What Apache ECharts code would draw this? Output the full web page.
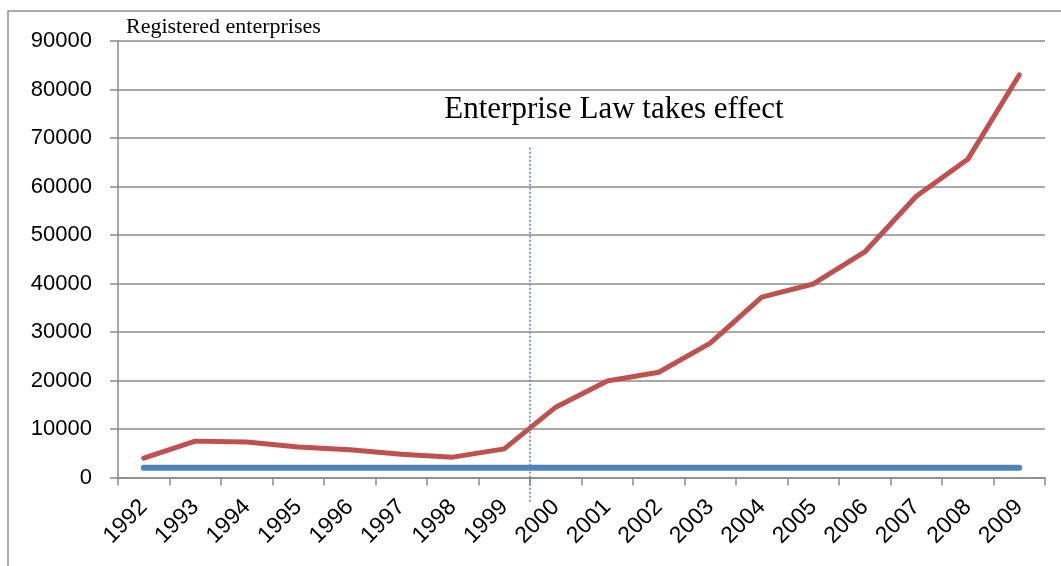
<!DOCTYPE html>
<html>
<head>
<meta charset="utf-8">
<script src="https://cdn.jsdelivr.net/npm/echarts@6/dist/echarts.min.js"></script>
<style>html,body{margin:0;padding:0;background:#fff}#c{width:1061px;height:566px}</style>
</head>
<body>
<div id="c"></div>
<script>
const years = ['1992','1993','1994','1995','1996','1997','1998','1999','2000','2001','2002','2003','2004','2005','2006','2007','2008','2009'];
const registered = [4000,7500,7300,6300,5700,4800,4200,5900,14500,19900,21700,27700,37200,39900,46500,58000,65600,83000];
const baseline = [2000,2000,2000,2000,2000,2000,2000,2000,2000,2000,2000,2000,2000,2000,2000,2000,2000,2000];
const yTicks = {min:0, max:90000, interval:10000};
const annotation = 'Enterprise Law takes effect';
const yName = 'Registered enterprises';
const lawBetween = ['1999','2000'];
const lawLineTop = 68000;

const chart = echarts.init(document.getElementById('c'));
const gray = '#8a8a8a';
chart.setOption({
  animation:false,
  grid:{left:118,right:16,top:41,bottom:88.5},
  title:{text:yName,left:121,top:11,textStyle:{fontFamily:'Liberation Serif',fontSize:22,fontWeight:'normal',color:'#000'}},
  xAxis:{type:'category',data:years,boundaryGap:true,
    axisLine:{lineStyle:{color:gray,width:1.5}},
    axisTick:{show:true,length:8,lineStyle:{color:gray,width:1.5}},
    axisLabel:{rotate:45,margin:26,fontFamily:'Liberation Sans',fontSize:23,color:'#000',interval:0}},
  yAxis:{type:'value',min:yTicks.min,max:yTicks.max,interval:yTicks.interval,
    axisLine:{show:true,lineStyle:{color:gray,width:1.5}},
    axisTick:{show:true,length:8,lineStyle:{color:gray,width:1.5}},
    splitLine:{lineStyle:{color:gray,width:1.5}},
    axisLabel:{margin:26,fontFamily:'Liberation Sans',fontSize:22,color:'#000',formatter:v=>String(v)}},
  series:[
    {type:'line',data:baseline,symbol:'none',lineStyle:{color:'#4f81bd',width:6,cap:'round'},z:2},
    {type:'line',data:registered,symbol:'none',lineStyle:{color:'#c0504d',width:5,cap:'round',join:'round'},z:3}
  ]
});

const xa = chart.convertToPixel({xAxisIndex:0}, lawBetween[0]);
const xb = chart.convertToPixel({xAxisIndex:0}, lawBetween[1]);
const xm = (xa+xb)/2;
const yTop = chart.convertToPixel({yAxisIndex:0}, lawLineTop);
const y0 = chart.convertToPixel({yAxisIndex:0}, 0);
chart.setOption({
  graphic:[
    {type:'rect',shape:{x:8,y:11,width:1200,height:700},style:{fill:'none',stroke:'#909090',lineWidth:1.5},silent:true},
    {type:'line',shape:{x1:xm,y1:yTop,x2:xm,y2:y0+25},style:{stroke:'#4f81bd',lineWidth:1.5,lineDash:[2,2]},z:10},
    {type:'text',x:xm+84,y:110,style:{text:annotation,fontFamily:'Liberation Serif',fontSize:31,fill:'#000',align:'center',verticalAlign:'middle'},z:10}
  ]
});
</script>
</body>
</html>
